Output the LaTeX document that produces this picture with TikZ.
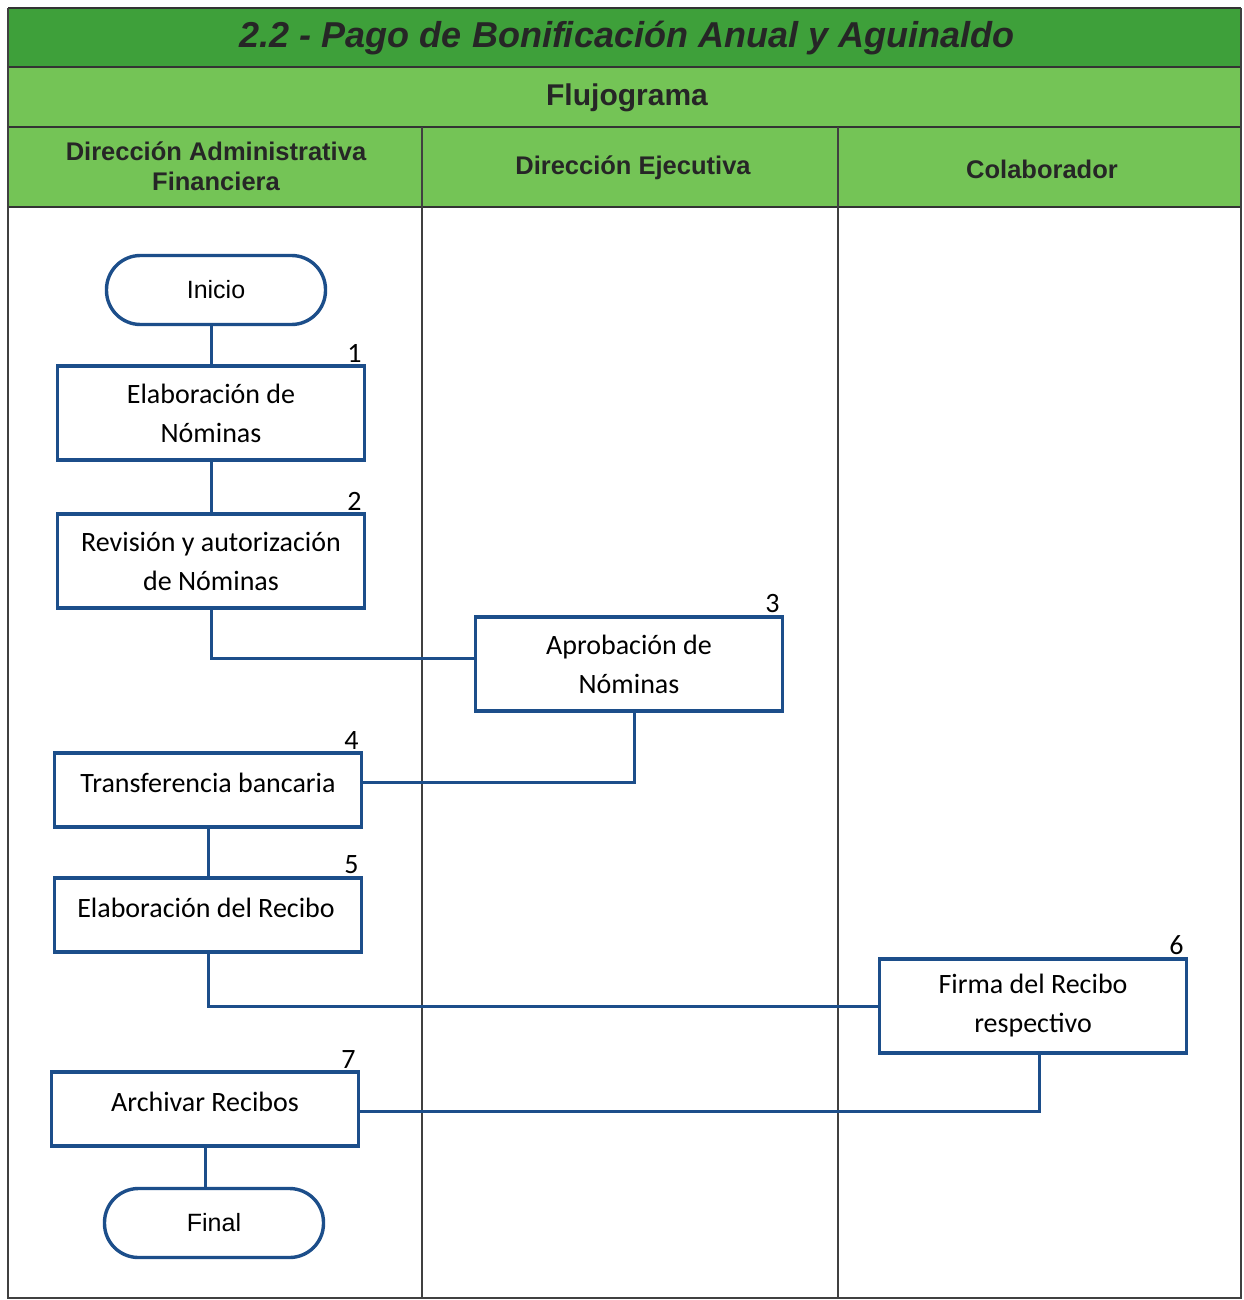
\documentclass[tikz,border=0pt]{standalone}
\usepackage{fontspec}
\setmainfont{Carlito}
\newfontfamily\arial{Liberation Sans}
\definecolor{dkgreen}{RGB}{62,160,58}
\definecolor{ltgreen}{RGB}{116,196,86}
\definecolor{boxblue}{RGB}{28,78,138}
\begin{document}
\begin{tikzpicture}[x=1pt,y=-1pt,
  every node/.style={inner sep=0pt, outer sep=0pt},
  stepbox/.style={draw=boxblue, line width=3.4pt, fill=white, minimum width=307pt, minimum height=94pt, align=center, font=\fontsize{28}{39}\selectfont},
  shortbox/.style={stepbox, minimum height=74pt},
  term/.style={draw=boxblue, line width=3.4pt, fill=white, rounded corners=34pt, minimum width=219pt, minimum height=69pt, font=\arial\fontsize{25}{30}\selectfont},
  btext/.style={font=\fontsize{28}{39}\selectfont},
  num/.style={anchor=south east, font=\fontsize{28}{30}\selectfont},
  conn/.style={draw=boxblue, line width=3pt},
  lane/.style={draw=black!75, line width=1.6pt},
  hdr/.style={font=\arial\bfseries\fontsize{25.5}{30}\selectfont, align=center, text=black!85}
]
\useasboundingbox (0,0) rectangle (1243,1300);
\fill[white] (0,0) rectangle (1243,1300);
% header bands
\fill[dkgreen] (8,8) rectangle (1241,67);
\fill[ltgreen] (8,67) rectangle (1241,207);
\draw[line width=2pt, black!80] (8,8) -- (1241,8);
\draw[line width=2.2pt, black!80] (8,67) -- (1241,67);
\draw[line width=2.2pt, black!80] (8,127) -- (1241,127);
\draw[line width=2.2pt, black!80] (8,207) -- (1241,207);
% lanes
\draw[lane] (8,8) -- (8,1298) -- (1241,1298) -- (1241,8);
\draw[lane] (422,127) -- (422,1298);
\draw[lane] (838,127) -- (838,1298);
% header texts
\node[font=\arial\bfseries\itshape\fontsize{36}{40}\selectfont, text=black!85] (title) at (627,38) {2.2 - Pago de Bonificación Anual y Aguinaldo};
\node[font=\arial\bfseries\fontsize{30}{34}\selectfont, text=black!85] (flujo) at (627,98) {Flujograma};
\node[hdr] (h1) at (216,166) {Dirección Administrativa\\Financiera};
\node[hdr] (h2) at (633,168) {Dirección Ejecutiva};
\node[hdr] (h3) at (1042,169) {Colaborador};
% nodes
\node[term] (ini) at (216,290) {Inicio};
\node[stepbox] (b1) at (211,413) {Elaboración de\\Nóminas};
\node[stepbox] (b2) at (211,561) {Revisión y autorización\\de Nóminas};
\node[stepbox] (b3) at (629,664) {Aprobación de\\Nóminas};
\node[shortbox] (b4) at (208,790) {};
\node[btext] (t4) at ([yshift=7pt]b4.center) {Transferencia bancaria};
\node[shortbox] (b5) at (208,915) {};
\node[btext] (t5) at ([yshift=7pt,xshift=-2pt]b5.center) {Elaboración del Recibo};
\node[stepbox] (b6) at (1033,1006) {Firma del Recibo\\respectivo};
\node[shortbox] (b7) at (205,1109) {};
\node[btext] (t7) at ([yshift=7pt]b7.center) {Archivar Recibos};
\node[term] (fin) at (214,1223) {Final};
% numbers
\node[num] (n1) at ([xshift=-3pt,yshift=4pt]b1.north east) {1};
\node[num] (n2) at ([xshift=-3pt,yshift=4pt]b2.north east) {2};
\node[num] (n3) at ([xshift=-3pt,yshift=4pt]b3.north east) {3};
\node[num] (n4) at ([xshift=-3pt,yshift=4pt]b4.north east) {4};
\node[num] (n5) at ([xshift=-3pt,yshift=4pt]b5.north east) {5};
\node[num] (n6) at ([xshift=-3pt,yshift=4pt]b6.north east) {6};
\node[num] (n7) at ([xshift=-3pt,yshift=4pt]b7.north east) {7};
% connectors
\draw[conn] (b1.north) -- (b1.north |- ini.south);
\draw[conn] (b1.south) -- (b2.north);
\draw[conn] (b2.south) |- ([yshift=6pt]b3.west);
\draw[conn] ([xshift=5pt]b3.south) |- ([yshift=8pt]b4.east);
\draw[conn] (b4.south) -- (b5.north);
\draw[conn] (b5.south) |- (b6.west);
\draw[conn] ([xshift=6pt]b6.south) |- ([yshift=-2pt]b7.east);
\draw[conn] (b7.south) -- (b7.south |- fin.north);
\end{tikzpicture}
\end{document}
